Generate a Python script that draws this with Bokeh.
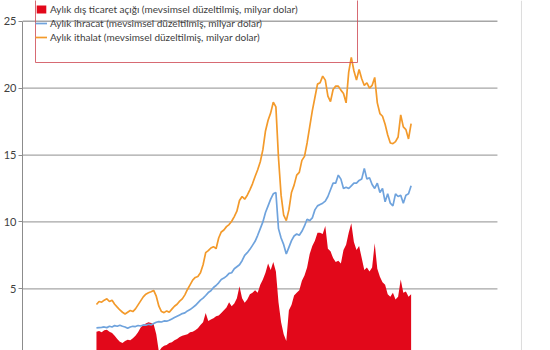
from bokeh.plotting import figure
from bokeh.models import Range1d, FixedTicker, Legend, LegendItem, BoxAnnotation, Span
from bokeh.embed import file_html
from bokeh.resources import INLINE

# Monthly series (every second month), billion USD, seasonally adjusted
start_year = 1997.25
step_years = 1 / 6

deficit = [
    1.80, 1.85, 1.75, 1.90, 1.95, 1.80, 1.70, 1.50, 1.25, 1.05,
    0.95, 1.10, 1.20, 1.15, 1.30, 1.50, 1.75, 2.10, 2.30, 2.40,
    2.50, 2.45, 2.35, 1.60, 0.30, 0.60, 0.75, 0.80, 0.95, 1.00,
    1.15, 1.25, 1.40, 1.50, 1.55, 1.60, 1.75, 1.80, 1.90, 2.05,
    2.30, 2.50, 3.20, 2.60, 2.70, 2.80, 2.95, 3.00, 3.20, 3.40,
    3.60, 4.00, 3.70, 3.90, 4.30, 5.20, 4.30, 3.95, 4.20, 4.60,
    4.70, 4.90, 4.70, 5.30, 5.70, 6.20, 6.90, 6.40, 7.00, 6.30,
    4.00, 2.50, 1.60, 1.10, 3.40, 3.80, 4.50, 4.70, 4.90, 5.60,
    6.00, 6.60, 7.60, 8.20, 8.60, 9.20, 9.20, 9.10, 9.70, 8.00,
    7.80, 7.30, 7.00, 7.10, 6.90, 7.90, 8.30, 9.20, 9.90, 8.50,
    7.90, 8.20, 7.30, 6.40, 6.60, 6.30, 6.60, 8.40, 6.50, 5.90,
    5.50, 5.30, 4.60, 4.40, 4.70, 4.20, 4.40, 5.70, 4.70, 4.80,
    4.40, 4.60,
]

exports = [
    2.08, 2.10, 2.12, 2.15, 2.10, 2.20, 2.15, 2.25, 2.20, 2.28,
    2.20, 2.15, 2.05, 2.15, 2.20, 2.18, 2.26, 2.22, 2.30, 2.28,
    2.35, 2.30, 2.40, 2.50, 2.55, 2.52, 2.60, 2.58, 2.65, 2.75,
    2.85, 2.95, 3.05, 3.15, 3.20, 3.35, 3.45, 3.60, 3.75, 3.95,
    4.15, 4.30, 4.50, 4.72, 4.85, 5.10, 5.25, 5.45, 5.70, 5.80,
    5.95, 6.15, 6.20, 6.50, 6.65, 6.80, 7.10, 7.50, 7.70, 7.95,
    8.25, 8.55, 9.00, 9.50, 10.00, 10.70, 11.20, 11.70, 12.10, 12.20,
    9.50, 8.80, 8.30, 7.60, 8.10, 8.60, 8.95, 9.10, 9.00, 9.30,
    9.70, 10.20, 10.10, 10.30, 10.90, 11.20, 11.30, 11.40, 11.55, 11.90,
    12.40, 12.90, 12.90, 13.50, 13.20, 12.50, 12.60, 12.50, 12.70, 12.90,
    12.90, 13.10, 13.20, 14.00, 13.20, 13.30, 12.80, 12.50, 12.90, 12.20,
    12.50, 11.50, 12.10, 11.40, 11.20, 12.10, 11.90, 12.00, 11.40, 12.00,
    12.10, 12.70,
]

imports = [
    3.83, 4.05, 4.00, 4.15, 4.25, 4.05, 4.15, 3.85, 3.63, 3.42,
    3.25, 3.12, 3.25, 3.38, 3.30, 3.50, 3.80, 4.10, 4.40, 4.60,
    4.70, 4.78, 4.88, 4.45, 3.70, 3.30, 3.22, 3.35, 3.25, 3.48,
    3.70, 3.85, 4.08, 4.25, 4.55, 4.95, 5.30, 5.65, 5.85, 5.92,
    6.20, 6.80, 7.70, 7.85, 8.05, 8.15, 8.00, 8.80, 9.25, 9.40,
    9.65, 9.80, 10.05, 10.40, 10.80, 11.60, 11.90, 11.70, 12.00, 12.40,
    12.85, 13.40, 13.90, 14.50, 15.40, 16.80, 17.60, 18.15, 18.95, 18.60,
    14.80, 12.00, 10.50, 10.10, 10.90, 12.20, 12.75, 13.50, 13.70, 14.60,
    14.90, 15.90, 17.10, 18.30, 19.30, 20.30, 20.40, 20.90, 20.60, 19.40,
    19.00, 19.90, 20.15, 20.15, 19.85, 19.60, 18.90, 21.20, 22.30, 21.30,
    20.60, 21.40, 20.70, 20.20, 20.40, 20.00, 20.20, 20.80, 18.90, 18.10,
    17.90, 17.30, 16.50, 15.90, 15.85, 16.00, 16.35, 18.00, 17.10, 16.90,
    16.20, 17.35,
]

years = [start_year + i * step_years for i in range(len(imports))]

y_ticks = [5, 10, 15, 20, 25]

labels = [
    "Aylık dış ticaret açığı (mevsimsel düzeltilmiş, milyar dolar)",
    "Aylık ihracat (mevsimsel düzeltilmiş, milyar dolar)",
    "Aylık ithalat (mevsimsel düzeltilmiş, milyar dolar)",
]

# Layout / style constants
X_START, X_END = 1992.51, 2026.35
GRID_END = 2022.95
BORDER_X = 2024.49
Y_START, Y_END = 0.39, 26.55
RED = "#e2081a"
BLUE = "#6fa3dd"
ORANGE = "#f39a2b"
GRID = "#a6a6a6"
TEXT = "#404040"

p = figure(
    width=550, height=350,
    x_range=Range1d(X_START, X_END), y_range=Range1d(Y_START, Y_END),
    x_axis_location=None, toolbar_location=None, output_backend="svg",
    min_border_left=22, min_border_right=0, min_border_top=0, min_border_bottom=0,
    outline_line_color=None, background_fill_color="white", border_fill_color="white",
)
p.ygrid.visible = False
p.xgrid.visible = False

# horizontal gridlines ending before the right edge
p.segment(x0=[X_START] * len(y_ticks), y0=y_ticks, x1=[GRID_END] * len(y_ticks), y1=y_ticks,
          line_color=GRID, line_width=1.3)
p.add_layout(Span(location=BORDER_X, dimension="height", line_color="#dddddd", line_width=1))

r_def = p.varea(x=years, y1=[0] * len(deficit), y2=deficit, fill_color=RED)
r_exp = p.line(years, exports, line_color=BLUE, line_width=1.7)
r_imp = p.line(years, imports, line_color=ORANGE, line_width=1.7)

ax = p.yaxis[0]
ax.ticker = FixedTicker(ticks=y_ticks)
ax.bounds = (0, 25)
ax.axis_line_color = "#8c8c8c"
ax.major_tick_line_color = "#8c8c8c"
ax.major_tick_out = 4
ax.major_tick_in = 0
ax.minor_tick_out = 0
ax.minor_tick_in = 0
ax.major_label_text_font = "Lato"
ax.major_label_text_font_size = "11px"
ax.major_label_text_color = TEXT
ax.major_label_standoff = 2

legend = Legend(
    items=[LegendItem(label=labels[0], renderers=[r_def]),
           LegendItem(label=labels[1], renderers=[r_exp]),
           LegendItem(label=labels[2], renderers=[r_imp])],
    location=(13, 306), padding=0, spacing=0, margin=0,
    glyph_width=12, glyph_height=10, label_height=14, label_standoff=3,
    border_line_color=None, background_fill_alpha=0,
    label_text_font="Lato", label_text_font_size="10px", label_text_color=TEXT,
)
p.add_layout(legend)

p.add_layout(BoxAnnotation(left=35, right=357, top=-1, bottom=62,
                           left_units="canvas", right_units="canvas",
                           top_units="canvas", bottom_units="canvas",
                           fill_color=None, line_color="#d0505a", line_alpha=0.85,
                           line_width=1))

open("out.html", "w").write(file_html(p, INLINE))
